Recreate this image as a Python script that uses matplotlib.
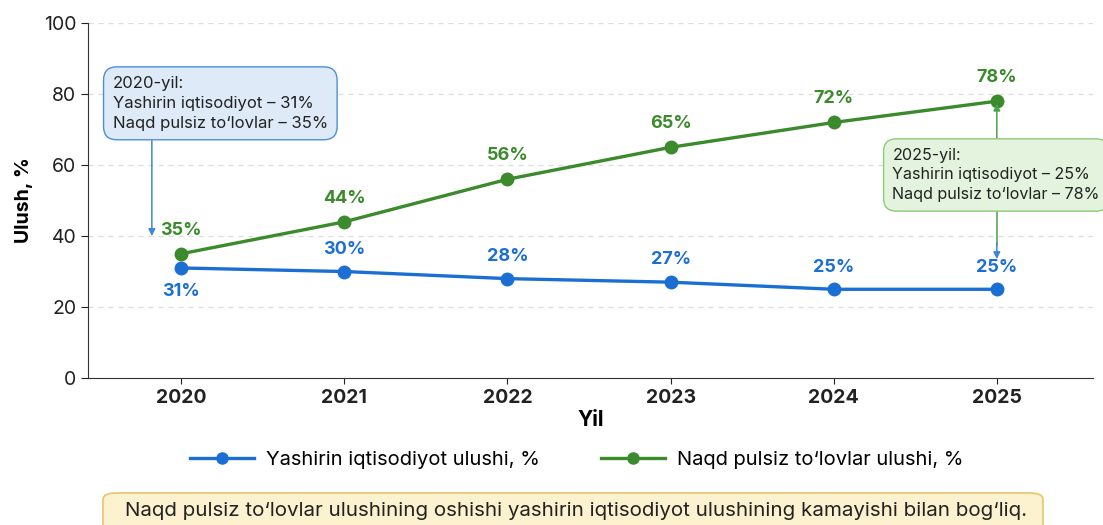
import matplotlib.pyplot as plt
from matplotlib.lines import Line2D
from matplotlib.patches import FancyBboxPatch

plt.rcParams['font.family'] = ['Inter', 'DejaVu Sans']

# Ma'lumotlar
years = [2020, 2021, 2022, 2023, 2024, 2025]
hidden_share = [31, 30, 28, 27, 25, 25]
cashless_share = [35, 44, 56, 65, 72, 78]
hidden_label = "Yashirin iqtisodiyot ulushi, %"
cashless_label = "Naqd pulsiz to\u2018lovlar ulushi, %"
note_2020 = "2020-yil:\nYashirin iqtisodiyot \u2013 31%\nNaqd pulsiz to\u2018lovlar \u2013 35%"
note_2025 = "2025-yil:\nYashirin iqtisodiyot \u2013 25%\nNaqd pulsiz to\u2018lovlar \u2013 78%"
footer = "Naqd pulsiz to\u2018lovlar ulushining oshishi yashirin iqtisodiyot ulushining kamayishi bilan bog\u2018liq."

blue = '#1b6fd3'
green = '#3b8a2c'

fig = plt.figure(figsize=(11.03, 5.25), dpi=100)
ax = fig.add_axes([0.08, 0.28, 0.911, 0.676])

ax.plot(years, hidden_share, color=blue, lw=2.4, marker='o', ms=9, zorder=3)
ax.plot(years, cashless_share, color=green, lw=2.4, marker='o', ms=9, zorder=3)

# Qiymat yorliqlari
for i, (x, v) in enumerate(zip(years, hidden_share)):
    dy = -17 if i == 0 else 16
    ax.annotate(f"{v}%", (x, v), xytext=(0, dy), textcoords='offset points',
                ha='center', va='center', color=blue, fontsize=13, fontweight='bold')
for x, v in zip(years, cashless_share):
    ax.annotate(f"{v}%", (x, v), xytext=(0, 17), textcoords='offset points',
                ha='center', va='center', color=green, fontsize=13, fontweight='bold')

ax.set_xlim(2019.43, 2025.59)
ax.set_ylim(0, 100)
ax.set_xticks(years)
ax.set_yticks([0, 20, 40, 60, 80, 100])
ax.tick_params(axis='y', length=5, labelsize=14, colors='#222222')
ax.tick_params(axis='x', length=4, labelsize=14, pad=4, colors='#222222')
for lbl in ax.get_xticklabels():
    lbl.set_fontweight('bold')
ax.grid(axis='y', linestyle=(0, (4, 4)), color='#dddddd', lw=0.9)
ax.set_axisbelow(True)
for s in ['top', 'right']:
    ax.spines[s].set_visible(False)
ax.spines['left'].set_color('#333333')
ax.spines['bottom'].set_color('#333333')
ax.set_xlabel("Yil", fontsize=15, fontweight='bold', labelpad=2)
ax.set_ylabel("Ulush, %", fontsize=14, fontweight='bold', labelpad=8)

# Izohlar
ax.text(2019.58, 77.4, note_2020, ha='left', va='center', fontsize=12, color='#222222',
        linespacing=1.4, zorder=4,
        bbox=dict(boxstyle='round,pad=0.55,rounding_size=0.8', fc='#deeaf8', ec='#4a8fdc', lw=1))
ax.annotate("", xy=(2019.82, 40), xytext=(2019.82, 67),
            arrowprops=dict(arrowstyle='-|>', color='#3d86d8', lw=1.1, shrinkA=0, shrinkB=0))

ax.text(2024.36, 57.2, note_2025, ha='left', va='center', fontsize=11.6, color='#222222',
        linespacing=1.4, zorder=4,
        bbox=dict(boxstyle='round,pad=0.55,rounding_size=0.8', fc='#e4f3dd', ec='#8ec97c', lw=1))
ax.annotate("", xy=(2025, 77.3), xytext=(2025, 67.6),
            arrowprops=dict(arrowstyle='-|>', color='#4aa24a', lw=1.1, shrinkA=0, shrinkB=0))
ax.plot([2025, 2025], [46.8, 37.5], color='#4aa24a', lw=1.1, zorder=2)
ax.annotate("", xy=(2025, 33.5), xytext=(2025, 38),
            arrowprops=dict(arrowstyle='-|>', color='#3d86d8', lw=1.1, shrinkA=0, shrinkB=0))

handles = [Line2D([], [], color=blue, lw=2.4, marker='o', ms=8),
           Line2D([], [], color=green, lw=2.4, marker='o', ms=8)]
fig.legend(handles, [hidden_label, cashless_label], loc='center', bbox_to_anchor=(0.523, 0.124),
           ncol=2, frameon=False, fontsize=14.5, handlelength=3.2, columnspacing=3.0, handletextpad=0.6)

# Pastki izoh qutisi
fig.patches.append(FancyBboxPatch((103 / 1103, -0.02), 940 / 1103, 0.081,
                                  boxstyle='round,pad=0,rounding_size=0.012',
                                  transform=fig.transFigure, fc='#fdf2cf', ec='#e8c56a', lw=1.2))
fig.text(0.522, 0.027, footer, ha='center', va='center', fontsize=14.8, color='#222222')

fig.savefig('out.png', dpi=100)
